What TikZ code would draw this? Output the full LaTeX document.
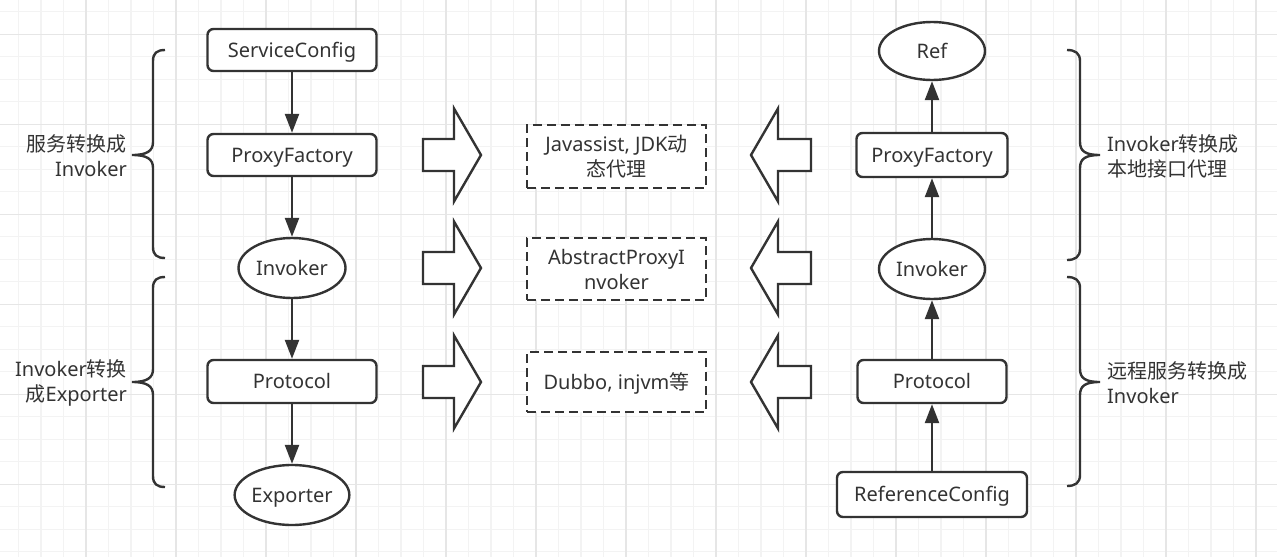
\documentclass[tikz,border=0pt]{standalone}
\usepackage{fontspec}
\setmainfont{Noto Sans}
\newfontfamily\cjk{Noto Sans CJK SC}
\usetikzlibrary{shapes.geometric,arrows.meta}
\definecolor{ink}{HTML}{333333}
\definecolor{gminor}{HTML}{F3F3F3}
\definecolor{gmajor}{HTML}{E6E6E6}
\begin{document}
\begin{tikzpicture}[x=1pt,y=-1pt,
  font=\fontsize{20}{25}\selectfont, text=ink,
  box/.style={draw=ink, line width=2.4pt, rounded corners=6pt, fill=white, inner sep=0pt, align=center},
  oval/.style={draw=ink, line width=2.4pt, ellipse, fill=white, inner sep=0pt, align=center},
  oneline/.style={text height=14.3pt, text depth=0pt},
  dbox/.style={draw=ink, line width=2.4pt, dash pattern=on 9pt off 5pt, fill=white, inner sep=0pt, align=center, minimum width=179pt},
  flow/.style={draw=ink, line width=2.4pt, -{Triangle[length=19pt,width=14pt]}},
  bracestyle/.style={draw=ink, line width=2.4pt},
  lbl/.style={inner sep=0pt},
  rarrow/.pic={\draw[ink, line width=2.4pt, fill=white, line join=miter]
     (-29,-16) -- (2,-16) -- (2,-46.5) -- (29,0) -- (2,46.5) -- (2,16) -- (-29,16) -- cycle;},
  larrow/.pic={\draw[ink, line width=2.4pt, fill=white, line join=miter]
     (30,-16) -- (-3,-16) -- (-3,-46.5) -- (-30,0) -- (-3,46.5) -- (-3,16) -- (30,16) -- cycle;}
]
\useasboundingbox (0,0) rectangle (1277,557);
\fill[white] (0,0) rectangle (1277,557);
% grid
\foreach \i in {0,...,56} \draw[gminor, line width=1.2pt] ({18.5+22.5*\i},0) -- ({18.5+22.5*\i},557);
\foreach \i in {0,...,24} \draw[gminor, line width=1.2pt] (0,{11.8+22.5*\i}) -- (1277,{11.8+22.5*\i});
\foreach \i in {0,...,13} \draw[gmajor, line width=1.2pt] ({86+90*\i},0) -- ({86+90*\i},557);
\foreach \i in {0,...,5} \draw[gmajor, line width=1.2pt] (0,{34.3+90*\i}) -- (1277,{34.3+90*\i});

% left column
\node[box, oneline, minimum width=169pt, minimum height=42pt] (sc) at (292,50) {ServiceConfig};
\node[box, oneline, minimum width=169pt, minimum height=42pt] (pf1) at (292,155) {ProxyFactory};
\node[oval, oneline, minimum width=107pt, minimum height=60pt] (inv1) at (292,268) {Invoker};
\node[box, oneline, minimum width=169pt, minimum height=43pt] (pr1) at (292,381.5) {Protocol};
\node[oval, oneline, minimum width=111pt, minimum height=60pt] (ex) at (292,495) {Exporter};
\draw[flow] (sc) -- (pf1);
\draw[flow] (pf1) -- (inv1);
\draw[flow] (inv1) -- (pr1);
\draw[flow] (pr1) -- (ex);

% right column
\node[oval, oneline, minimum width=106pt, minimum height=58pt] (ref) at (932,51) {Ref};
\node[box, oneline, minimum width=151pt, minimum height=44pt] (pf2) at (932,155) {ProxyFactory};
\node[oval, oneline, minimum width=106pt, minimum height=60pt] (inv2) at (932,269) {Invoker};
\node[box, oneline, minimum width=149pt, minimum height=43pt] (pr2) at (932,381.5) {Protocol};
\node[box, oneline, minimum width=190pt, minimum height=45pt] (rc) at (932,494.5) {ReferenceConfig};
\draw[flow] (rc) -- (pr2);
\draw[flow] (pr2) -- (inv2);
\draw[flow] (inv2) -- (pf2);
\draw[flow] (pf2) -- (ref);

% middle dashed boxes
\node[dbox, minimum height=63pt] (d1) at (616.5,156.5) {Javassist, JDK{\cjk 动}\\{\cjk 态代理}};
\node[dbox, minimum height=62pt] (d2) at (616.5,269) {AbstractProxyI\\nvoker};
\node[dbox, oneline, minimum height=60pt] (d3) at (616.5,382) {Dubbo, injvm{\cjk 等}};

% block arrows
\pic at (452,155) {rarrow};
\pic at (452,268) {rarrow};
\pic at (452,382) {rarrow};
\pic at (781,155) {larrow};
\pic at (781,268) {larrow};
\pic at (781,382) {larrow};

% left braces
\draw[bracestyle] (165,50) .. controls (157,50) and (153,53) .. (153,61) -- (153,142)
  .. controls (153,151) and (147,155) .. (132,155)
  .. controls (147,155) and (153,159) .. (153,168) -- (153,247)
  .. controls (153,255) and (157,258) .. (165,258);
\draw[bracestyle] (165,277) .. controls (157,277) and (153,280) .. (153,288) -- (153,369)
  .. controls (153,378) and (147,382) .. (132,382)
  .. controls (147,382) and (153,386) .. (153,395) -- (153,476)
  .. controls (153,484) and (157,487) .. (165,487);
% right braces
\draw[bracestyle] (1067,50) .. controls (1075,50) and (1080,53) .. (1080,61) -- (1080,142)
  .. controls (1080,151) and (1085,155) .. (1100,155)
  .. controls (1085,155) and (1080,159) .. (1080,168) -- (1080,249)
  .. controls (1080,257) and (1075,260) .. (1067,260);
\draw[bracestyle] (1067,277) .. controls (1075,277) and (1080,280) .. (1080,288) -- (1080,369)
  .. controls (1080,378) and (1085,382) .. (1100,382)
  .. controls (1085,382) and (1080,386) .. (1080,395) -- (1080,475)
  .. controls (1080,483) and (1075,486) .. (1067,486);

% labels
\node[lbl, anchor=east, align=right] (l1) at (127,155.5) {{\cjk 服务转换成}\\Invoker};
\node[lbl, anchor=east, align=right] (l2) at (127,382.5) {Invoker{\cjk 转换}\\{\cjk 成}Exporter};
\node[lbl, anchor=west, align=left] (l3) at (1107,156.5) {Invoker{\cjk 转换成}\\{\cjk 本地接口代理}};
\node[lbl, anchor=west, align=left] (l4) at (1107,382.5) {{\cjk 远程服务转换成}\\Invoker};
\end{tikzpicture}
\end{document}
